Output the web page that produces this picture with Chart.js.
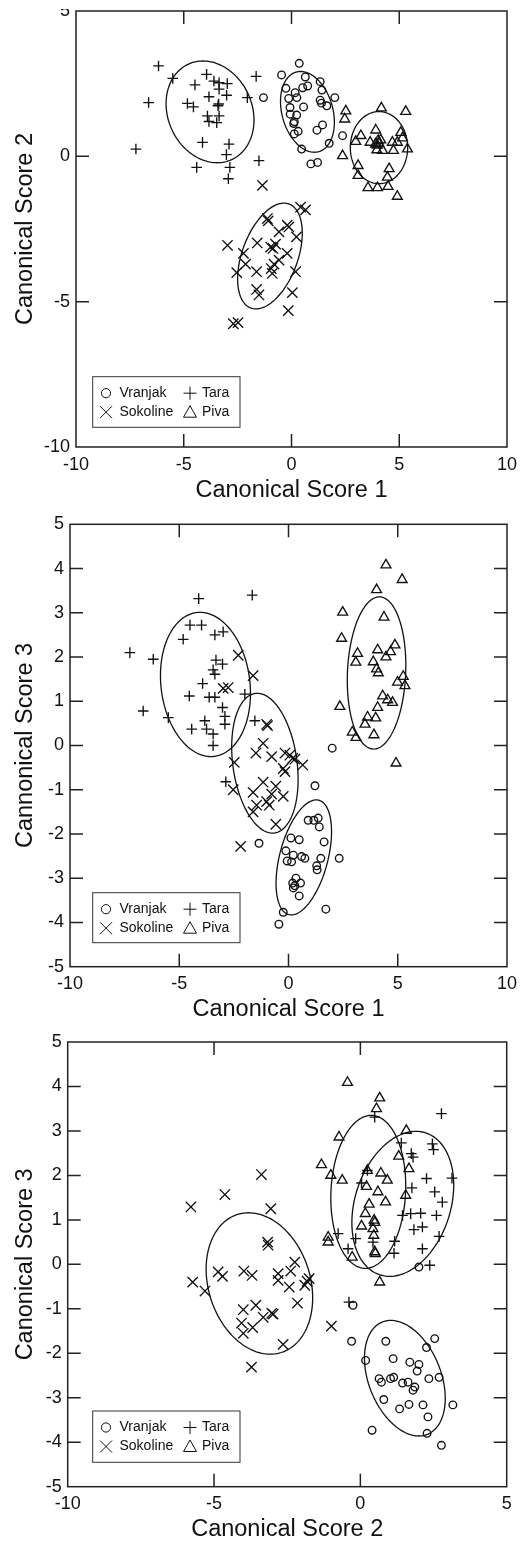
<!DOCTYPE html>
<html>
<head>
<meta charset="utf-8">
<script src="https://cdn.jsdelivr.net/npm/chart.js@4.4.1/dist/chart.umd.min.js"></script>
<style>
  html, body { margin: 0; padding: 0; background: #fff; }
  canvas { position: absolute; left: 0; top: 0; }
  #crop { position: absolute; left: 0; top: 0; width: 530px; height: 9px; background: #fff; }
</style>
</head>
<body>
<canvas id="c1" width="530" height="1543"></canvas>
<canvas id="c2" width="530" height="1543"></canvas>
<canvas id="c3" width="530" height="1543"></canvas>
<div id="crop"></div>
<script>
// group names, legend order
const groups = ["Vranjak", "Tara", "Sokoline", "Piva"];

// ---- panel 1: score 1 vs score 2
const s1XTicks = [-10, -5, 0, 5, 10];
const s1YTicks = [-10, -5, 0, 5];
const s1Vranjak = [[0.36,3.2],[-0.46,2.8],[0.64,2.73],[1.33,2.57],[-0.26,2.34],[0.17,2.19],[0.52,2.36],[0.75,2.42],[1.41,2.28],[-0.13,1.99],[0.25,2.02],[2.01,2.02],[1.33,1.93],[1.39,1.83],[1.64,1.74],[0.56,1.7],[-0.07,1.68],[-0.06,1.45],[0.24,1.42],[0.13,1.19],[0.1,1.13],[1.44,1.08],[1.18,0.9],[0.31,0.86],[0.13,0.77],[2.37,0.71],[1.75,0.45],[0.47,0.25],[0.9,-0.26],[1.21,-0.21],[-1.3,2.02]];
const s1Tara = [[-6.17,3.11],[-5.51,2.68],[-6.63,1.85],[-7.22,0.25],[-3.94,2.82],[-4.48,2.46],[-3.6,2.59],[-3.36,2.53],[-2.98,2.5],[-3.36,2.31],[-3.83,2.05],[-3.01,2.1],[-2.05,2.02],[-4.83,1.82],[-4.55,1.7],[-3.41,1.74],[-3.38,1.8],[-3.9,1.39],[-3.36,1.39],[-3.83,1.2],[-3.47,1.16],[-4.13,0.48],[-2.9,0.42],[-3.02,0.06],[-4.4,-0.38],[-2.86,-0.38],[-2.93,-0.77],[-1.64,2.75],[-1.51,-0.15]];
const s1Sokoline = [[-1.35,-1.0],[0.42,-1.75],[0.65,-1.84],[-1.12,-2.14],[-1.08,-2.22],[-0.2,-2.37],[-0.12,-2.43],[-0.58,-2.6],[0.23,-2.77],[-2.97,-3.06],[-1.59,-2.98],[-0.97,-3.12],[-0.86,-3.17],[-0.74,-3.02],[-0.2,-3.34],[-2.23,-3.34],[-2.13,-3.71],[-0.58,-3.57],[-0.81,-3.71],[-0.94,-3.86],[-2.54,-4.0],[-1.62,-3.97],[-0.89,-4.03],[0.19,-3.97],[-1.62,-4.58],[-1.51,-4.77],[0.04,-4.69],[-0.15,-5.31],[-2.7,-5.76],[-2.48,-5.72]];
const s1Piva = [[2.52,1.56],[2.47,1.28],[4.17,1.66],[5.3,1.54],[3.91,0.9],[3.22,0.71],[2.98,0.51],[3.65,0.48],[4.02,0.54],[3.9,0.42],[4.14,0.56],[3.96,0.22],[4.23,0.2],[4.73,0.2],[4.68,0.48],[5.07,0.82],[5.15,0.63],[5.38,0.25],[4.91,0.48],[2.37,0.02],[3.09,-0.32],[3.09,-0.66],[4.53,-0.43],[4.45,-0.72],[3.55,-1.08],[3.99,-1.08],[4.48,-1.04],[4.91,-1.38],[4.05,0.45],[3.98,0.38]];
// ellipses: centre x, centre y, half width, half height, x offset of top point
const s1Ellipses = [[0.74,1.53,1.25,1.39,-0.32],[-3.78,1.53,2.04,1.75,-0.33],[-1.0,-3.43,1.5,1.82,0.65],[4.06,0.3,1.33,1.24,0]];

// ---- panel 2: score 1 vs score 3
const s2XTicks = [-10, -5, 0, 5, 10];
const s2YTicks = [-5, -4, -3, -2, -1, 0, 1, 2, 3, 4, 5];
const s2Vranjak = [[2.0,-0.06],[1.21,-0.91],[0.9,-1.69],[1.16,-1.69],[1.36,-1.64],[1.41,-1.84],[0.11,-2.09],[0.49,-2.13],[1.63,-2.18],[-1.35,-2.21],[-0.12,-2.38],[0.22,-2.48],[0.6,-2.51],[0.75,-2.55],[-0.06,-2.61],[0.14,-2.63],[2.32,-2.55],[1.48,-2.55],[1.29,-2.72],[1.31,-2.81],[0.34,-3.0],[0.19,-3.11],[0.55,-3.11],[0.29,-3.17],[0.22,-3.22],[0.49,-3.4],[1.71,-3.7],[-0.24,-3.77],[-0.44,-4.04]];
const s2Tara = [[-7.26,2.1],[-6.19,1.95],[-6.65,0.78],[-5.5,0.63],[-4.11,3.32],[-1.66,3.4],[-4.51,2.72],[-3.98,2.72],[-4.82,2.4],[-3.37,2.5],[-2.99,2.57],[-3.32,1.93],[-3.02,1.84],[-3.45,1.71],[-3.37,1.61],[-3.93,1.4],[-4.54,1.12],[-3.63,1.09],[-3.37,1.09],[-2.0,1.16],[-3.02,0.86],[-2.91,0.66],[-2.91,0.48],[-3.83,0.56],[-4.43,0.37],[-3.75,0.37],[-3.45,0.26],[-3.45,0.0],[-1.54,0.56],[-2.87,-0.82]];
const s2Sokoline = [[-2.3,2.04],[-1.62,1.58],[-2.99,1.29],[-2.76,1.31],[-1.0,0.48],[-0.96,0.45],[-1.16,0.05],[-1.49,-0.17],[-2.48,-0.38],[-0.77,-0.25],[-0.16,-0.17],[0.06,-0.22],[0.19,-0.29],[0.29,-0.31],[0.65,-0.44],[-0.24,-0.52],[-0.16,-0.59],[-2.53,-1.0],[-1.16,-0.83],[-0.58,-0.92],[-1.62,-1.06],[-0.77,-1.1],[-0.24,-1.15],[-1.0,-1.27],[-0.88,-1.35],[-1.46,-1.35],[-1.62,-1.5],[-0.58,-1.78],[-2.19,-2.28]];
const s2Piva = [[4.46,4.08],[5.2,3.75],[4.03,3.52],[2.48,3.01],[4.37,2.9],[2.43,2.42],[4.87,2.27],[4.08,2.16],[4.67,2.12],[4.46,2.0],[3.16,2.08],[3.08,1.88],[3.88,1.89],[4.03,1.73],[4.11,1.64],[5.25,1.56],[4.99,1.43],[5.33,1.35],[4.31,1.12],[4.54,1.03],[4.76,0.97],[4.08,0.86],[2.35,0.88],[3.62,0.64],[3.99,0.62],[3.5,0.48],[2.92,0.3],[3.09,0.18],[3.91,0.24],[4.92,-0.4]];
const s2Ellipses = [[0.7,-2.53,1.27,1.3,0.57],[-3.8,1.38,2.06,1.63,-0.25],[-1.08,-0.4,1.52,1.58,-0.35],[4.03,1.64,1.34,1.72,0.13]];

// ---- panel 3: score 2 vs score 3
const s3XTicks = [-10, -5, 0, 5];
const s3YTicks = [-5, -4, -3, -2, -1, 0, 1, 2, 3, 4, 5];
const s3Vranjak = [[-0.25,-0.92],[-0.3,-1.73],[0.87,-1.73],[0.18,-2.16],[1.12,-2.12],[1.69,-2.2],[2.0,-2.25],[1.94,-2.4],[2.26,-1.87],[2.54,-1.67],[0.64,-2.57],[0.72,-2.65],[1.03,-2.57],[1.14,-2.54],[1.44,-2.67],[1.63,-2.65],[1.86,-2.76],[1.8,-2.83],[2.34,-2.57],[2.69,-2.54],[0.8,-3.04],[1.34,-3.25],[1.66,-3.15],[2.14,-3.16],[2.31,-3.43],[3.16,-3.16],[0.4,-3.73],[2.28,-3.8],[2.77,-4.07],[2.0,-0.06]];
const s3Tara = [[2.77,3.39],[0.49,3.31],[1.4,2.73],[2.46,2.71],[2.5,2.58],[1.74,2.49],[1.8,2.41],[0.24,2.11],[2.26,1.93],[3.13,1.94],[0.04,1.83],[1.76,1.72],[2.54,1.63],[2.8,1.4],[1.44,1.1],[1.72,1.14],[2.06,1.15],[2.6,1.1],[1.83,0.78],[2.12,0.84],[-0.76,0.69],[-0.16,0.58],[0.43,0.5],[1.17,0.52],[2.69,0.63],[-0.42,0.35],[1.15,0.25],[2.12,0.35],[2.37,-0.02],[-0.39,-0.85]];
const s3Sokoline = [[-5.79,1.29],[-4.63,1.57],[-3.38,2.02],[-3.06,1.25],[-3.17,0.5],[-3.15,0.43],[-4.86,-0.17],[-4.71,-0.27],[-3.98,-0.15],[-3.7,-0.25],[-2.24,0.05],[-2.38,-0.15],[-2.81,-0.21],[-1.75,-0.32],[-5.73,-0.4],[-5.31,-0.6],[-2.81,-0.36],[-2.43,-0.51],[-1.9,-0.47],[-1.82,-0.38],[-2.15,-0.87],[-4.0,-1.02],[-3.57,-0.92],[-3.03,-1.1],[-2.98,-1.12],[-3.32,-1.19],[-4.06,-1.32],[-3.68,-1.42],[-4.0,-1.55],[-2.64,-1.8],[-3.72,-2.31],[-0.99,-1.39]];
const s3Piva = [[-0.44,4.09],[0.66,3.74],[0.55,3.5],[-0.73,2.86],[1.57,3.01],[-1.33,2.24],[-1.01,2.0],[-0.62,1.89],[0.24,2.11],[0.7,2.05],[0.92,1.89],[1.31,2.43],[1.66,2.15],[0.21,1.75],[0.6,1.63],[1.55,1.55],[0.3,1.35],[0.86,1.4],[0.17,1.14],[0.47,0.99],[0.49,0.94],[0.04,0.86],[0.43,0.8],[0.46,0.65],[-1.1,0.61],[-1.1,0.5],[0.49,0.28],[0.51,0.24],[-0.28,0.16],[0.66,-0.4]];
const s3Ellipses = [[1.52,-2.56,1.38,1.3,-0.48],[1.45,1.36,1.74,1.63,0.45],[-3.45,-0.43,1.82,1.59,-0.37],[0.27,1.63,1.28,1.72,0.1]];

const FONT = '"Liberation Sans", Arial, Helvetica, sans-serif';
const INK = "#111";
const TITLE_SIZE = 23.5;

// marker per group: [chart.js pointStyle, radius]
const markers = [["circle", 3.8], ["cross", 5.3], ["crossRot", 7.3], ["triangle", 5.7]];

// ellipses drawn through the scales
const ellipsePlugin = {
  id: "ellipses",
  afterDatasetsDraw(chart, args, opts) {
    const { ctx, scales: { x, y } } = chart;
    ctx.save();
    ctx.strokeStyle = INK;
    ctx.lineWidth = 1.3;
    opts.list.forEach(([cx, cy, hw, hh, tdx]) => {
      const hx = Math.sqrt(Math.max(hw * hw - tdx * tdx, 0));
      ctx.beginPath();
      for (let i = 0; i <= 144; i++) {
        const t = (i / 144) * Math.PI * 2;
        const px = x.getPixelForValue(cx + tdx * Math.cos(t) + hx * Math.sin(t));
        const py = y.getPixelForValue(cy + hh * Math.cos(t));
        if (i === 0) ctx.moveTo(px, py); else ctx.lineTo(px, py);
      }
      ctx.closePath();
      ctx.stroke();
    });
    ctx.restore();
  }
};

// box round the plot with inward ticks on all four sides
const framePlugin = {
  id: "frame",
  afterDatasetsDraw(chart) {
    const { ctx, chartArea: a, scales: { x, y } } = chart;
    const L = 13;
    ctx.save();
    ctx.strokeStyle = "#222";
    ctx.lineWidth = 1.5;
    ctx.strokeRect(a.left, a.top, a.right - a.left, a.bottom - a.top);
    ctx.beginPath();
    x.ticks.forEach(t => {
      if (t.value <= x.min || t.value >= x.max) return;
      const p = x.getPixelForValue(t.value);
      ctx.moveTo(p, a.bottom); ctx.lineTo(p, a.bottom - L);
      ctx.moveTo(p, a.top); ctx.lineTo(p, a.top + L);
    });
    y.ticks.forEach(t => {
      if (t.value <= y.min || t.value >= y.max) return;
      const p = y.getPixelForValue(t.value);
      ctx.moveTo(a.left, p); ctx.lineTo(a.left + L, p);
      ctx.moveTo(a.right, p); ctx.lineTo(a.right - L, p);
    });
    ctx.stroke();
    ctx.restore();
  }
};

function keyMarker(ctx, i, cx, cy) {
  ctx.beginPath();
  if (i === 0) {
    ctx.arc(cx, cy, 4.6, 0, Math.PI * 2);
  } else if (i === 1) {
    ctx.moveTo(cx - 6.5, cy); ctx.lineTo(cx + 6.5, cy);
    ctx.moveTo(cx, cy - 6.5); ctx.lineTo(cx, cy + 6.5);
  } else if (i === 2) {
    ctx.moveTo(cx - 6, cy - 6); ctx.lineTo(cx + 6, cy + 6);
    ctx.moveTo(cx - 6, cy + 6); ctx.lineTo(cx + 6, cy - 6);
  } else {
    ctx.moveTo(cx, cy - 6.5); ctx.lineTo(cx + 6.5, cy + 5); ctx.lineTo(cx - 6.5, cy + 5);
    ctx.closePath();
  }
  ctx.stroke();
}

// boxed 2x2 key
const keyPlugin = {
  id: "key",
  afterDraw(chart, args, o) {
    const ctx = chart.ctx;
    ctx.save();
    ctx.strokeStyle = "#333";
    ctx.lineWidth = 1;
    ctx.strokeRect(o.x, o.y, o.w, o.h);
    ctx.font = "14px " + FONT;
    ctx.fillStyle = INK;
    ctx.textBaseline = "middle";
    ctx.textAlign = "left";
    const rows = [o.y + 16.5, o.y + 35.5];
    const cols = [o.x + 13.3, o.x + 97.3];
    groups.forEach((name, i) => {
      const cx = cols[i % 2], cy = rows[Math.floor(i / 2)];
      ctx.lineWidth = 1;
      ctx.strokeStyle = INK;
      keyMarker(ctx, i, cx, cy);
      ctx.fillText(name, cx + (i % 2 ? 12 : 13.5), cy);
    });
    ctx.restore();
  }
};

const panels = [
  { id: "c1", area: { top: 11, bottom: 447, left: 76, right: 507 }, xTitleY: 490.5, yTitleX: 26,
    xTitle: "Canonical Score 1", yTitle: "Canonical Score 2", xr: [-10, 10], yr: [-10, 5],
    xTicks: s1XTicks, yTicks: s1YTicks, sets: [s1Vranjak, s1Tara, s1Sokoline, s1Piva],
    ellipses: s1Ellipses, key: { x: 92.7, y: 376.7, w: 147.3, h: 50.6 } },
  { id: "c2", area: { top: 524.3, bottom: 966.7, left: 70, right: 507 }, xTitleY: 1010, yTitleX: 25.5,
    xTitle: "Canonical Score 1", yTitle: "Cannonical Score 3", xr: [-10, 10], yr: [-5, 5],
    xTicks: s2XTicks, yTicks: s2YTicks, sets: [s2Vranjak, s2Tara, s2Sokoline, s2Piva],
    ellipses: s2Ellipses, key: { x: 92.7, y: 892.7, w: 147.3, h: 50 } },
  { id: "c3", area: { top: 1042, bottom: 1486.7, left: 67.7, right: 506.7 }, xTitleY: 1530, yTitleX: 26,
    xTitle: "Canonical Score 2", yTitle: "Canonical Score 3", xr: [-10, 5], yr: [-5, 5],
    xTicks: s3XTicks, yTicks: s3YTicks, sets: [s3Vranjak, s3Tara, s3Sokoline, s3Piva],
    ellipses: s3Ellipses, key: { x: 92.7, y: 1411, w: 147.3, h: 51.3 } }
];

panels.forEach(p => {
  const xBottom = p.xTitleY + TITLE_SIZE / 2;
  const datasets = p.sets.map((pts, i) => ({
    label: groups[i],
    data: pts.map(([x, y]) => ({ x, y })),
    pointStyle: markers[i][0],
    pointRadius: markers[i][1],
    pointHoverRadius: markers[i][1],
    pointBorderColor: INK,
    pointBackgroundColor: "rgba(0,0,0,0)",
    pointBorderWidth: 1.35,
    showLine: false
  }));
  const tickFont = { size: 18, family: FONT };
  const titleFont = { size: TITLE_SIZE, family: FONT, lineHeight: 1 };
  new Chart(document.getElementById(p.id), {
    type: "scatter",
    data: { datasets },
    options: {
      responsive: false,
      devicePixelRatio: 1,
      animation: false,
      layout: { padding: { top: p.area.top, left: 0, right: 530 - p.area.right, bottom: 1543 - xBottom } },
      plugins: {
        legend: { display: false },
        tooltip: { enabled: false },
        ellipses: { list: p.ellipses },
        key: p.key
      },
      scales: {
        x: {
          type: "linear", min: p.xr[0], max: p.xr[1],
          afterBuildTicks: s => { s.ticks = p.xTicks.map(v => ({ value: v })); },
          afterFit: s => { s.height = xBottom - p.area.bottom; s.paddingLeft = 0; s.paddingRight = 0; },
          grid: { display: false, drawTicks: false },
          border: { display: false },
          ticks: { padding: 7, font: tickFont, color: INK, maxRotation: 0, autoSkip: false },
          title: { display: true, text: p.xTitle, font: titleFont, color: INK, padding: { top: 0, bottom: 0 } }
        },
        y: {
          type: "linear", min: p.yr[0], max: p.yr[1],
          afterBuildTicks: s => { s.ticks = p.yTicks.map(v => ({ value: v })); },
          afterFit: s => { s.width = p.area.left; s.paddingTop = 0; s.paddingBottom = 0; },
          grid: { display: false, drawTicks: false },
          border: { display: false },
          ticks: { padding: 6, font: tickFont, color: INK, autoSkip: false },
          title: { display: true, text: p.yTitle, font: titleFont, color: INK, padding: { top: p.yTitleX - TITLE_SIZE / 2, bottom: 0 } }
        }
      }
    },
    plugins: [ellipsePlugin, framePlugin, keyPlugin]
  });
});
</script>
</body>
</html>
